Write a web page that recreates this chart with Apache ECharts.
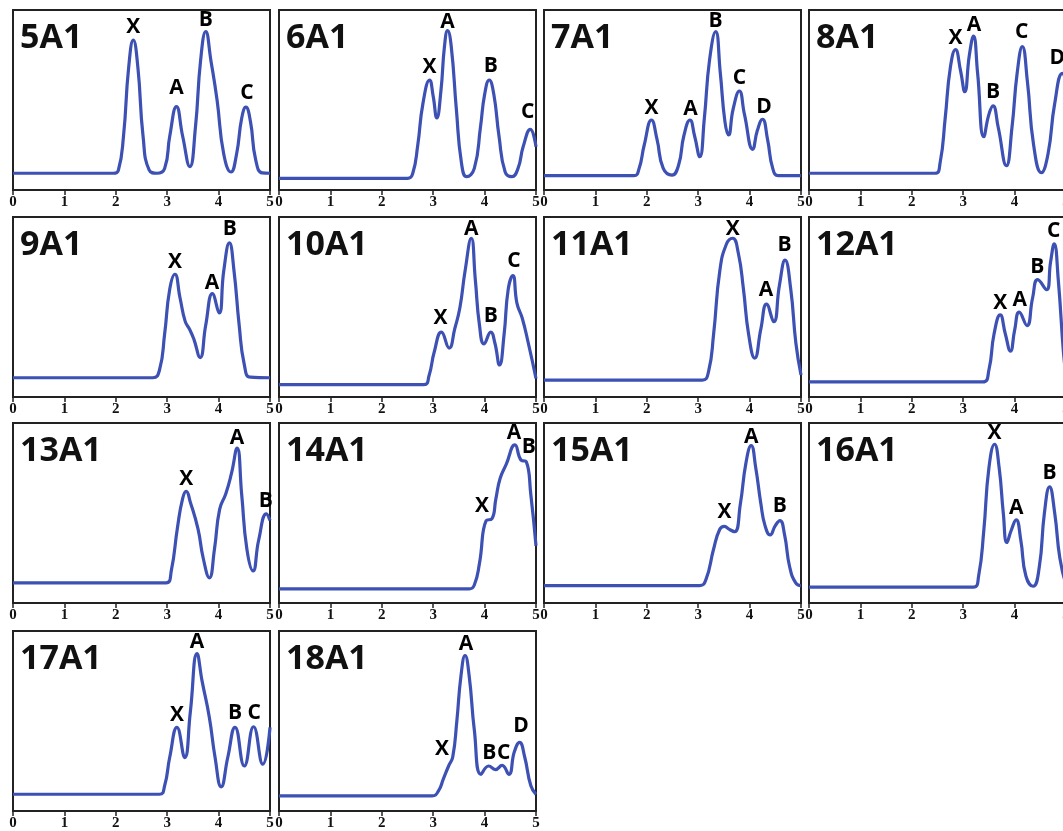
<!DOCTYPE html>
<html><head><meta charset="utf-8">
<script src="https://cdn.jsdelivr.net/npm/echarts@6/dist/echarts.min.js"></script>
<style>html,body{margin:0;padding:0;background:#fff;overflow:hidden;width:1063px;height:831px;}#c{width:1085px;height:831px;}</style>
</head><body><div id="c"></div>
<script>
// ---- DATA (x in 0..5, y as fraction of panel height) ----
const panelNames = ['5A1','6A1','7A1','8A1','9A1','10A1','11A1','12A1','13A1','14A1','15A1','16A1','17A1','18A1'];

const curve5A1 = [[0,0.093],[1.95,0.093],[2.05,0.11],[2.15,0.3],[2.25,0.68],[2.34,0.833],[2.43,0.68],[2.53,0.3],[2.65,0.11],[2.8,0.093],[2.95,0.12],[3.05,0.3],[3.18,0.463],[3.3,0.3],[3.44,0.13],[3.55,0.35],[3.65,0.72],[3.75,0.88],[3.85,0.72],[3.97,0.5],[4.1,0.2],[4.24,0.10],[4.35,0.2],[4.45,0.4],[4.53,0.46],[4.62,0.38],[4.72,0.17],[4.85,0.095],[5,0.093]];
const curve6A1 = [[0,0.065],[2.5,0.065],[2.6,0.09],[2.7,0.25],[2.8,0.48],[2.93,0.611],[3.0,0.52],[3.07,0.40],[3.15,0.55],[3.22,0.8],[3.28,0.885],[3.35,0.8],[3.45,0.45],[3.55,0.15],[3.65,0.074],[3.8,0.12],[3.92,0.35],[4.0,0.53],[4.09,0.611],[4.18,0.53],[4.28,0.3],[4.4,0.1],[4.53,0.074],[4.65,0.12],[4.75,0.24],[4.89,0.337],[5.0,0.24]];
const curve7A1 = [[0,0.08],[1.75,0.08],[1.85,0.12],[1.95,0.25],[2.09,0.389],[2.2,0.28],[2.32,0.12],[2.49,0.083],[2.62,0.14],[2.72,0.3],[2.84,0.389],[2.93,0.3],[3.03,0.185],[3.12,0.4],[3.22,0.72],[3.34,0.88],[3.43,0.65],[3.52,0.38],[3.59,0.306],[3.68,0.45],[3.8,0.55],[3.9,0.42],[4.06,0.226],[4.15,0.33],[4.25,0.393],[4.35,0.28],[4.45,0.12],[4.56,0.08],[5,0.08]];
const curve8A1 = [[0,0.093],[2.45,0.093],[2.55,0.15],[2.65,0.4],[2.75,0.68],[2.85,0.78],[2.95,0.66],[3.03,0.546],[3.12,0.75],[3.2,0.855],[3.28,0.65],[3.4,0.296],[3.5,0.42],[3.58,0.467],[3.68,0.35],[3.84,0.135],[3.95,0.35],[4.05,0.65],[4.15,0.796],[4.25,0.6],[4.37,0.25],[4.52,0.096],[4.65,0.2],[4.78,0.48],[4.93,0.648],[5.0,0.6]];
const curve9A1 = [[0,0.107],[2.72,0.107],[2.85,0.15],[2.95,0.35],[3.05,0.6],[3.15,0.682],[3.25,0.55],[3.35,0.42],[3.44,0.374],[3.52,0.32],[3.64,0.219],[3.75,0.4],[3.88,0.574],[4.01,0.467],[4.1,0.7],[4.21,0.856],[4.3,0.7],[4.4,0.4],[4.5,0.18],[4.62,0.11],[5,0.107]];
const curve10A1 = [[0,0.069],[2.82,0.069],[2.92,0.12],[3.02,0.25],[3.16,0.36],[3.31,0.272],[3.42,0.38],[3.52,0.497],[3.62,0.7],[3.74,0.882],[3.82,0.65],[3.9,0.4],[3.99,0.295],[4.12,0.36],[4.2,0.3],[4.29,0.178],[4.38,0.35],[4.46,0.6],[4.55,0.675],[4.63,0.52],[4.73,0.44],[4.85,0.3],[5,0.103]];
const curve11A1 = [[0,0.094],[3.08,0.094],[3.2,0.14],[3.3,0.35],[3.42,0.7],[3.55,0.85],[3.67,0.882],[3.78,0.8],[3.88,0.6],[3.98,0.35],[4.1,0.216],[4.22,0.38],[4.33,0.516],[4.47,0.418],[4.58,0.62],[4.69,0.76],[4.8,0.6],[4.9,0.3],[5,0.122]];
const curve12A1 = [[0,0.084],[3.38,0.084],[3.5,0.15],[3.6,0.35],[3.72,0.456],[3.82,0.35],[3.92,0.255],[4.0,0.37],[4.09,0.471],[4.24,0.397],[4.35,0.55],[4.45,0.652],[4.62,0.596],[4.7,0.75],[4.77,0.851],[4.85,0.65],[4.95,0.25],[5.0,0.12]];
const curve13A1 = [[0,0.112],[2.98,0.112],[3.08,0.18],[3.2,0.42],[3.3,0.58],[3.37,0.62],[3.45,0.56],[3.6,0.41],[3.7,0.25],[3.82,0.14],[3.92,0.3],[4.02,0.52],[4.14,0.607],[4.25,0.72],[4.36,0.86],[4.45,0.6],[4.55,0.3],[4.67,0.178],[4.78,0.35],[4.93,0.495],[5,0.458]];
const curve14A1 = [[0,0.0785],[3.7,0.0785],[3.8,0.1],[3.9,0.22],[4.03,0.458],[4.14,0.467],[4.22,0.58],[4.3,0.69],[4.42,0.77],[4.59,0.878],[4.71,0.794],[4.81,0.785],[4.9,0.6],[5,0.318]];
const curve15A1 = [[0,0.097],[3.03,0.097],[3.15,0.13],[3.3,0.3],[3.42,0.41],[3.51,0.426],[3.6,0.41],[3.71,0.396],[3.82,0.55],[3.93,0.78],[4.03,0.875],[4.12,0.75],[4.22,0.55],[4.3,0.43],[4.4,0.378],[4.5,0.43],[4.59,0.458],[4.68,0.38],[4.78,0.2],[4.9,0.11],[5,0.097]];
const curve16A1 = [[0,0.088],[3.2,0.088],[3.3,0.15],[3.4,0.4],[3.5,0.75],[3.61,0.882],[3.7,0.75],[3.78,0.5],[3.85,0.336],[3.93,0.4],[4.03,0.462],[4.12,0.35],[4.22,0.15],[4.36,0.093],[4.48,0.2],[4.58,0.5],[4.68,0.645],[4.78,0.5],[4.88,0.25],[5,0.1]];
const curve17A1 = [[0,0.093],[2.85,0.093],[2.95,0.14],[3.05,0.3],[3.19,0.465],[3.34,0.297],[3.45,0.55],[3.58,0.874],[3.68,0.72],[3.82,0.52],[3.93,0.3],[4.05,0.134],[4.18,0.3],[4.32,0.465],[4.5,0.25],[4.68,0.468],[4.86,0.26],[5,0.465]];
const curve18A1 = [[0,0.084],[2.98,0.084],[3.1,0.11],[3.2,0.18],[3.3,0.25],[3.38,0.3],[3.46,0.5],[3.54,0.75],[3.62,0.864],[3.7,0.75],[3.8,0.45],[3.93,0.204],[4.08,0.25],[4.21,0.23],[4.34,0.253],[4.47,0.204],[4.58,0.33],[4.68,0.381],[4.78,0.3],[4.9,0.14],[5,0.093]];

const peaks5A1 = [['X',2.34,0.84],['A',3.18,0.5],['B',3.75,0.88],['C',4.55,0.475]];
const peaks6A1 = [['X',2.93,0.62],['A',3.28,0.87],['B',4.12,0.626],['C',4.84,0.367]];
const peaks7A1 = [['X',2.09,0.394],['A',2.85,0.385],['B',3.34,0.876],['C',3.80,0.557],['D',4.28,0.398]];
const peaks8A1 = [['X',2.85,0.778],['A',3.21,0.852],['B',3.58,0.48],['C',4.14,0.815],['D',4.83,0.667]];
const peaks9A1 = [['X',3.15,0.686],['A',3.87,0.57],['B',4.22,0.87]];
const peaks10A1 = [['X',3.14,0.375],['A',3.74,0.872],['B',4.12,0.388],['C',4.57,0.694]];
const peaks11A1 = [['X',3.67,0.872],['A',4.32,0.53],['B',4.68,0.78]];
const peaks12A1 = [['X',3.72,0.456],['A',4.10,0.475],['B',4.44,0.657],['C',4.76,0.857]];
const peaks13A1 = [['X',3.37,0.626],['A',4.36,0.85],['B',4.92,0.505]];
const peaks14A1 = [['X',3.95,0.477],['A',4.57,0.882],['B',4.86,0.804]];
const peaks15A1 = [['X',3.51,0.439],['A',4.03,0.86],['B',4.59,0.477]];
const peaks16A1 = [['X',3.61,0.878],['A',4.03,0.465],['B',4.68,0.657]];
const peaks17A1 = [['X',3.19,0.468],['A',3.58,0.874],['B',4.32,0.48],['C',4.69,0.48]];
const peaks18A1 = [['X',3.17,0.283],['A',3.64,0.864],['B',4.09,0.26],['C',4.37,0.26],['D',4.71,0.409]];

const curves = [curve5A1,curve6A1,curve7A1,curve8A1,curve9A1,curve10A1,curve11A1,curve12A1,curve13A1,curve14A1,curve15A1,curve16A1,curve17A1,curve18A1];
const peaks = [peaks5A1,peaks6A1,peaks7A1,peaks8A1,peaks9A1,peaks10A1,peaks11A1,peaks12A1,peaks13A1,peaks14A1,peaks15A1,peaks16A1,peaks17A1,peaks18A1];

// ---- LAYOUT ----
const colLeft = [13, 279, 544, 809];
const rowTop = [10, 217, 423, 631];
const boxW = 257, boxH = 180;
const lineColor = '#3D50B3';

const grid = [], xAxis = [], yAxis = [], series = [], title = [];
panelNames.forEach((name, i) => {
  const r = Math.floor(i / 4), c = i % 4;
  const L = colLeft[c], T = rowTop[r];
  grid.push({left: L, top: T, width: boxW, height: boxH, show: true, borderColor: '#222', borderWidth: 2, backgroundColor: '#fff'});
  xAxis.push({gridIndex: i, type: 'value', min: 0, max: 5, interval: 1,
    axisLine: {show: true, onZero: false, lineStyle: {color: '#222', width: 2}},
    axisTick: {show: true, length: 5, lineStyle: {color: '#222', width: 1.5}},
    axisLabel: {show: true, margin: 5, color: '#111', fontFamily: 'Liberation Serif', fontWeight: 'bold', fontSize: 15},
    splitLine: {show: false}});
  yAxis.push({gridIndex: i, type: 'value', min: 0, max: 1, show: false, splitLine: {show: false}});
  series.push({type: 'line', xAxisIndex: i, yAxisIndex: i, data: curves[i], smooth: 0.5,
    showSymbol: false, symbol: 'none', lineStyle: {color: lineColor, width: 3.2}, silent: true, z: 3});
  series.push({type: 'scatter', xAxisIndex: i, yAxisIndex: i, symbolSize: 0,
    itemStyle: {opacity: 1, color: '#000'},
    data: peaks[i].map(p => [p[1], p[2], p[0]]),
    label: {show: true, position: 'top', distance: 1, formatter: p => p.value[2], opacity: 1,
      fontFamily: 'Open Sans', fontWeight: 'bold', fontSize: 21, color: '#000'}, silent: true, z: 4});
  title.push({text: name, left: L + 7, top: T + 11, padding: 0,
    textStyle: {fontFamily: 'Open Sans', fontWeight: 'bold', fontSize: 34, color: '#111'}});
});

const chart = echarts.init(document.getElementById('c'), null, {renderer: 'canvas'});
chart.setOption({animation: false, backgroundColor: '#fff', title, grid, xAxis, yAxis, series});
</script></body></html>
